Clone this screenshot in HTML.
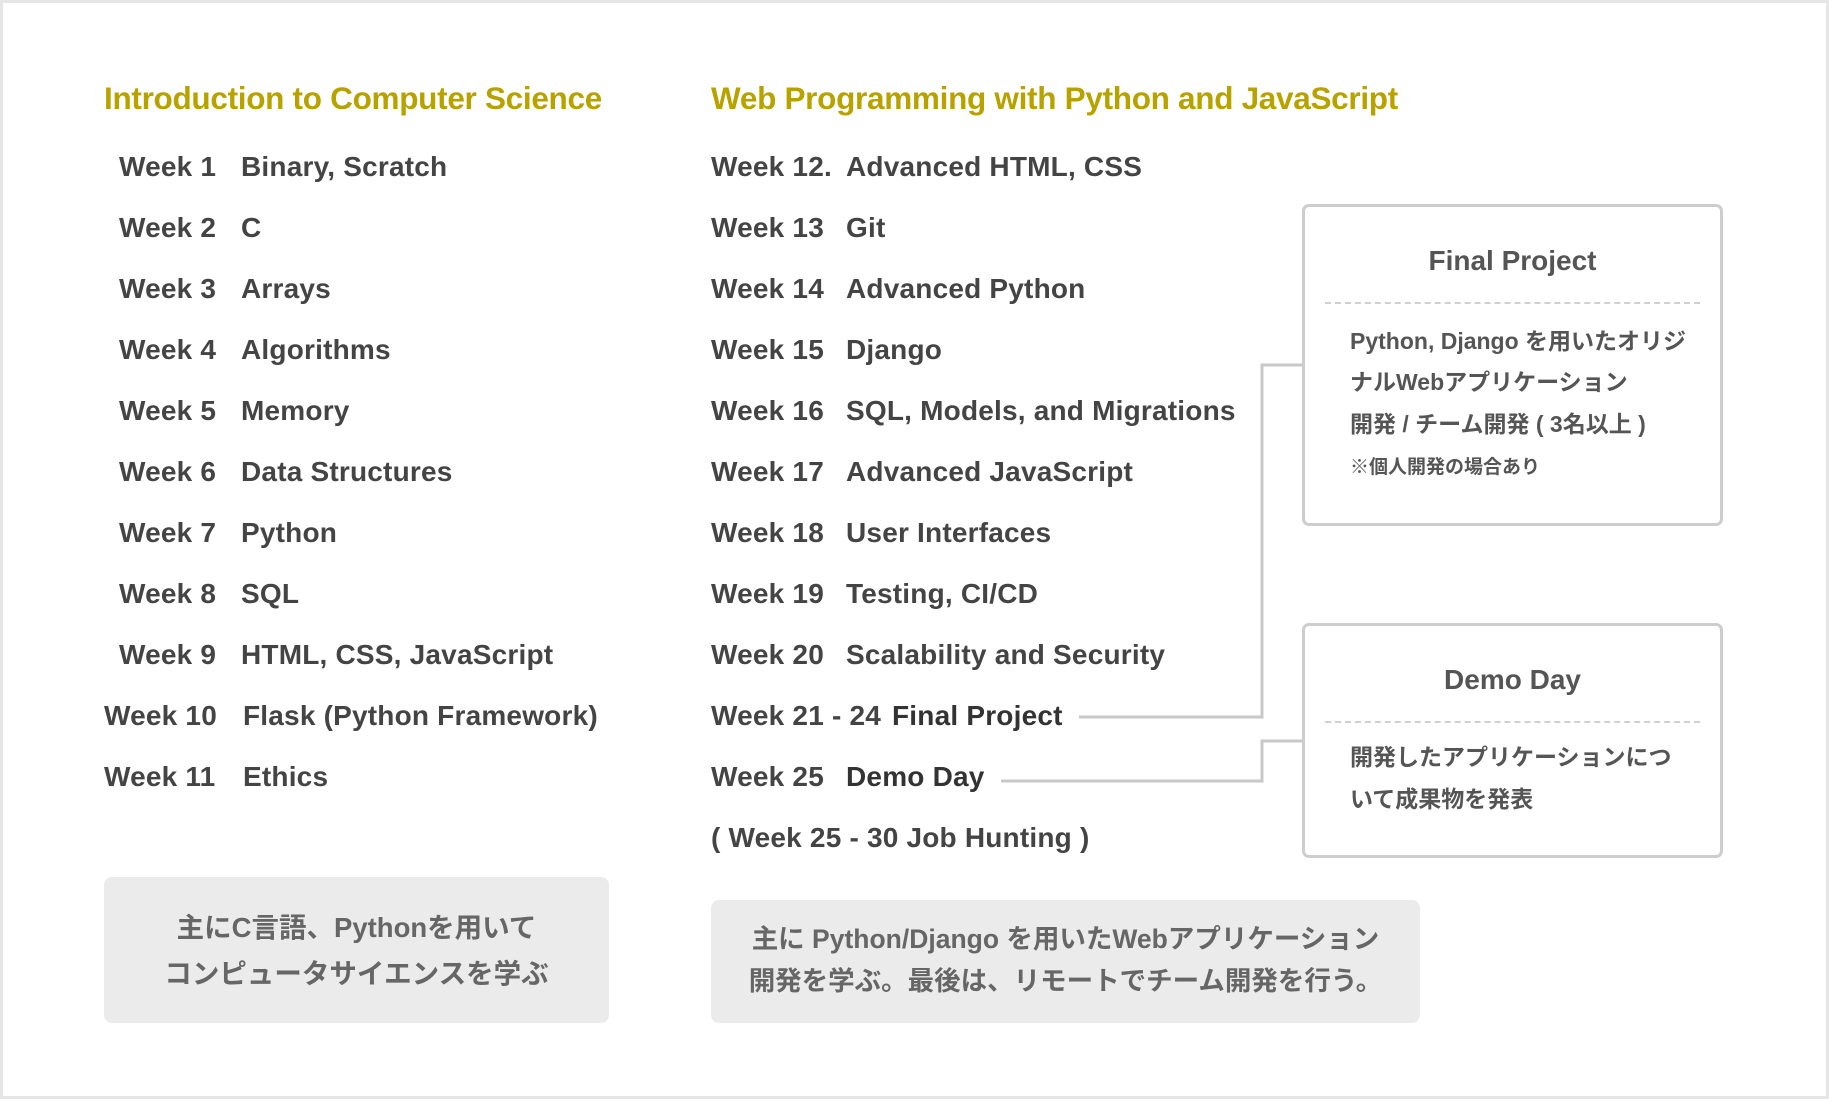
<!DOCTYPE html>
<html><head><meta charset="utf-8"><style>
*{margin:0;padding:0;box-sizing:border-box}
body{width:1829px;height:1099px;background:#fff;position:relative;overflow:hidden;font-family:"Liberation Sans","Noto Sans CJK JP",sans-serif;color:#444}
.frame{position:absolute;left:0;top:0;width:1829px;height:1099px;border:3px solid #e6e6e6}
.t{position:absolute;white-space:nowrap;font-weight:bold;line-height:40px;height:40px}
.title{color:#b8a200;font-size:31.5px;letter-spacing:-0.3px}
.wk{font-size:28px;color:#444;letter-spacing:0.2px}
.box{position:absolute;border:3px solid #cdcdcd;border-radius:7px;background:#fff}
.bt{position:absolute;left:0;right:0;text-align:center;font-weight:bold;font-size:28px;color:#555}
.dash{position:absolute;left:20px;right:20px;border-top:2px dashed #d0d0d0}
.bx{position:absolute;left:45px;font-size:23px;color:#555;white-space:nowrap;font-weight:bold}
.gray{position:absolute;background:#ebebeb;border-radius:8px;text-align:center;color:#666;font-weight:bold;font-size:27.5px}
</style></head><body>
<div class="frame"></div>
<div class="t title" style="left:104px;top:78px">Introduction to Computer Science</div>
<div class="t title" style="left:711px;top:78px">Web Programming with Python and JavaScript</div>

<div class="t wk" style="left:119px;top:147px">Week 1</div><div class="t wk" style="left:241px;top:147px">Binary, Scratch</div>
<div class="t wk" style="left:119px;top:208px">Week 2</div><div class="t wk" style="left:241px;top:208px">C</div>
<div class="t wk" style="left:119px;top:269px">Week 3</div><div class="t wk" style="left:241px;top:269px">Arrays</div>
<div class="t wk" style="left:119px;top:330px">Week 4</div><div class="t wk" style="left:241px;top:330px">Algorithms</div>
<div class="t wk" style="left:119px;top:391px">Week 5</div><div class="t wk" style="left:241px;top:391px">Memory</div>
<div class="t wk" style="left:119px;top:452px">Week 6</div><div class="t wk" style="left:241px;top:452px">Data Structures</div>
<div class="t wk" style="left:119px;top:513px">Week 7</div><div class="t wk" style="left:241px;top:513px">Python</div>
<div class="t wk" style="left:119px;top:574px">Week 8</div><div class="t wk" style="left:241px;top:574px">SQL</div>
<div class="t wk" style="left:119px;top:635px">Week 9</div><div class="t wk" style="left:241px;top:635px">HTML, CSS, JavaScript</div>
<div class="t wk" style="left:104px;top:696px">Week 10</div><div class="t wk" style="left:243px;top:696px">Flask (Python Framework)</div>
<div class="t wk" style="left:104px;top:757px">Week 11</div><div class="t wk" style="left:243px;top:757px">Ethics</div>

<div class="t wk" style="left:711px;top:147px">Week 12.</div><div class="t wk" style="left:846px;top:147px">Advanced HTML, CSS</div>
<div class="t wk" style="left:711px;top:208px">Week 13</div><div class="t wk" style="left:846px;top:208px">Git</div>
<div class="t wk" style="left:711px;top:269px">Week 14</div><div class="t wk" style="left:846px;top:269px">Advanced Python</div>
<div class="t wk" style="left:711px;top:330px">Week 15</div><div class="t wk" style="left:846px;top:330px">Django</div>
<div class="t wk" style="left:711px;top:391px">Week 16</div><div class="t wk" style="left:846px;top:391px">SQL, Models, and Migrations</div>
<div class="t wk" style="left:711px;top:452px">Week 17</div><div class="t wk" style="left:846px;top:452px">Advanced JavaScript</div>
<div class="t wk" style="left:711px;top:513px">Week 18</div><div class="t wk" style="left:846px;top:513px">User Interfaces</div>
<div class="t wk" style="left:711px;top:574px">Week 19</div><div class="t wk" style="left:846px;top:574px">Testing, CI/CD</div>
<div class="t wk" style="left:711px;top:635px">Week 20</div><div class="t wk" style="left:846px;top:635px">Scalability and Security</div>
<div class="t wk" style="left:711px;top:696px">Week 21 - 24</div><div class="t wk" style="left:892px;top:696px;color:#333">Final Project</div>
<div class="t wk" style="left:711px;top:757px">Week 25</div><div class="t wk" style="left:846px;top:757px;color:#333">Demo Day</div>
<div class="t wk" style="left:711px;top:818px">( Week 25 - 30 Job Hunting )</div>

<svg style="position:absolute;left:0;top:0" width="1829" height="1099">
<polyline points="1079,717 1262,717 1262,365 1303,365" fill="none" stroke="#c8c8c8" stroke-width="3"/>
<polyline points="1001,781 1262,781 1262,741 1303,741" fill="none" stroke="#c8c8c8" stroke-width="3"/>
</svg>

<div class="box" style="left:1302px;top:204px;width:421px;height:322px">
<div class="bt" style="top:38px">Final Project</div>
<div class="dash" style="top:95px"></div>
<div class="bx" style="top:115px">Python, Django を用いたオリジ</div>
<div class="bx" style="top:156px">ナルWebアプリケーション</div>
<div class="bx" style="top:198px">開発 / チーム開発 ( 3名以上 )</div>
<div class="bx" style="top:245px;font-size:19px">※個人開発の場合あり</div>
</div>

<div class="box" style="left:1302px;top:623px;width:421px;height:235px">
<div class="bt" style="top:38px">Demo Day</div>
<div class="dash" style="top:95px"></div>
<div class="bx" style="top:112px">開発したアプリケーションにつ</div>
<div class="bx" style="top:154px">いて成果物を発表</div>
</div>

<div class="gray" style="left:104px;top:877px;width:505px;height:146px;padding-top:28px;line-height:46px">主にC言語、Pythonを用いて<br>コンピュータサイエンスを学ぶ</div>
<div class="gray" style="left:711px;top:900px;width:709px;height:123px;padding-top:18px;line-height:42px;font-size:26.5px">主に Python/Django を用いたWebアプリケーション<br>開発を学ぶ。最後は、リモートでチーム開発を行う。</div>
</body></html>
